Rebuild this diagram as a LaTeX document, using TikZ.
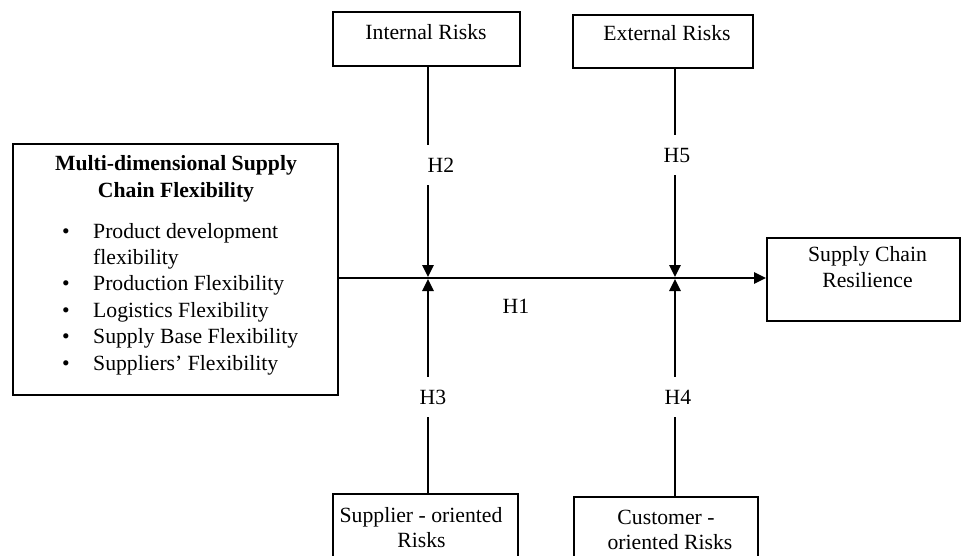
\documentclass[tikz,border=0pt]{standalone}
\usepackage{fontspec}
\setmainfont{Liberation Serif}
\usetikzlibrary{arrows.meta}
\tikzset{
	box/.style={draw, line width=1.8pt, rectangle, inner sep=0pt},
	txt/.style={font=\fontsize{21.7}{26}\selectfont, inner sep=0pt},
	hyp/.style={font=\fontsize{21.7}{26}\selectfont, fill=white, inner xsep=6pt, inner ysep=13pt},
	link/.style={line width=2.6pt, -{Triangle[length=12pt,width=11pt]}}
}

\begin{document}
\begin{tikzpicture}[x=1pt, y=-1pt]
		%%%%% START %%%%%
		\useasboundingbox (0,0) rectangle (964,555);
		
		\node[box, minimum width=325pt, minimum height=251pt] (flex) at (175.5,269.5) {};
		\node[box, minimum width=187pt, minimum height=54pt] (int) at (426.5,39) {};
		\node[box, minimum width=180pt, minimum height=53pt] (ext) at (663,41.5) {};
		\node[box, minimum width=193pt, minimum height=83pt] (res) at (863.5,279.5) {};
		\node[box, minimum width=185pt, minimum height=81pt] (sup) at (425.5,534.5) {};
		\node[box, minimum width=184pt, minimum height=78pt] (cus) at (666,536) {};
		
		\coordinate (j1) at (428,278);
		\coordinate (j2) at (675,278);
		
		\draw[link] (int.south -| j1) -- ([yshift=1pt]j1);
		\draw[link] (ext.south -| j2) -- ([yshift=1pt]j2);
		\draw[link] (sup.north -| j1) -- ([yshift=-1pt]j1);
		\draw[link] (cus.north -| j2) -- ([yshift=-1pt]j2);
		\draw[link] (flex.east |- j1) -- (res.west |- j1);
		
		\node[hyp] (h2) at (441,165) {H2};
		\node[hyp] (h5) at (677,155) {H5};
		\node[hyp] (h3) at (433,397) {H3};
		\node[hyp] (h4) at (678,397) {H4};
		\node[hyp, fill=none] (h1) at (516,306) {H1};
		
		\node[txt, anchor=base] (intT) at (426,39) {Internal Risks};
		\node[txt, anchor=base] (extT) at (667,40) {External Risks};
		\node[txt, anchor=base] (resA) at (867.5,261) {Supply Chain};
		\node[txt, anchor=base] (resB) at (867.5,287) {Resilience};
		\node[txt, anchor=base] (supA) at (421,522) {Supplier - oriented};
		\node[txt, anchor=base] (supB) at (421.5,547) {Risks};
		\node[txt, anchor=base] (cusA) at (666,524) {Customer -};
		\node[txt, anchor=base] (cusB) at (670,549) {oriented Risks};
		
		\node[txt, anchor=base, font=\fontsize{21.7}{26}\selectfont\bfseries] (flexA) at (176,170) {Multi-dimensional Supply};
		\node[txt, anchor=base, font=\fontsize{21.7}{26}\selectfont\bfseries] (flexB) at (176,197) {Chain Flexibility};
		
		\foreach \b/\t [count=\i] in {1/Product development, 0/flexibility, 1/Production Flexibility, 1/Logistics Flexibility, 1/Supply Base Flexibility, 1/Suppliers' Flexibility}{
			\node[txt, anchor=base west] (item\i) at (93,{238+(\i-1)*26.4}) {\t};
			\ifnum\b=1
				\node[txt, anchor=base] (dot\i) at (66,{238+(\i-1)*26.4}) {\textbullet};
			\fi
		}
		
		%%%%% END %%%%%
\end{tikzpicture}
\end{document}
